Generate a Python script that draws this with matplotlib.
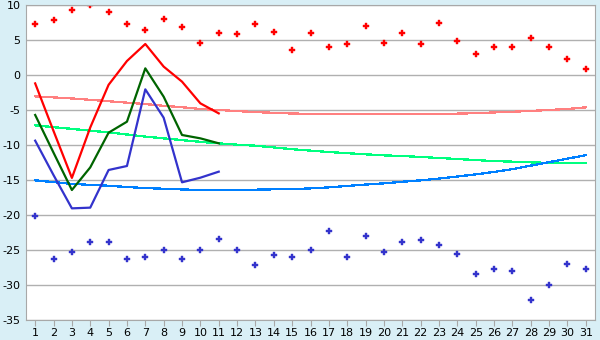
import numpy as np
import matplotlib
matplotlib.use("Agg")
import matplotlib.pyplot as plt

plt.rcParams['axes.unicode_minus'] = False

days = np.arange(1, 32)

# daily maxima / minima (markers)
tmax = [7.24, 7.81, 9.24, 9.95, 8.95, 7.24, 6.38, 7.95, 6.81, 4.52,
        5.95, 5.81, 7.24, 6.1, 3.52, 5.95, 3.95, 4.38, 6.95, 4.52,
        5.95, 4.38, 7.38, 4.81, 2.95, 3.95, 3.95, 5.24, 3.95, 2.24, 0.81]
tmin = [-20.19, -26.33, -25.33, -23.9, -23.9, -26.33, -26.05, -25.05, -26.33, -25.05,
        -23.48, -25.05, -27.19, -25.76, -26.05, -25.05, -22.33, -26.05, -23.05, -25.33,
        -23.9, -23.62, -24.33, -25.62, -28.48, -27.76, -28.05, -32.19, -30.05, -27.05, -27.76]

# measured lines (first 11 days)
line_days = np.arange(1, 12)
red_line = [-1.2, -8.0, -14.7, -7.5, -1.4, 2.0, 4.43, 1.2, -0.95, -4.05, -5.48]
green_line = [-5.71, -11.1, -16.43, -13.2, -8.24, -6.67, 0.95, -3.1, -8.57, -9.05, -9.76]
blue_line = [-9.38, -14.3, -19.05, -18.95, -13.57, -13.0, -2.05, -6.1, -15.33, -14.67, -13.81]

# normals (thin lines)
norm_max = [-3.05, -3.2, -3.35, -3.55, -3.75, -3.95, -4.15, -4.4, -4.6, -4.85,
            -5.0, -5.15, -5.3, -5.4, -5.5, -5.55, -5.6, -5.62, -5.62, -5.62,
            -5.62, -5.6, -5.57, -5.52, -5.45, -5.35, -5.25, -5.13, -5.0, -4.85, -4.62]
norm_mid = [-7.19, -7.45, -7.7, -7.95, -8.2, -8.5, -8.8, -9.05, -9.3, -9.55,
            -9.76, -9.95, -10.1, -10.35, -10.6, -10.8, -11.0, -11.17, -11.33, -11.48,
            -11.57, -11.71, -11.85, -12.0, -12.15, -12.3, -12.38, -12.48, -12.55, -12.6, -12.62]
norm_min = [-15.05, -15.3, -15.55, -15.7, -15.82, -16.0, -16.15, -16.25, -16.35, -16.42,
            -16.45, -16.42, -16.38, -16.33, -16.3, -16.2, -16.05, -15.85, -15.65, -15.48,
            -15.25, -15.05, -14.8, -14.5, -14.2, -13.85, -13.45, -12.95, -12.45, -11.95, -11.45]

fig = plt.figure(figsize=(6, 3.4), dpi=100, facecolor='#d9eff6')
ax = fig.add_axes([26/600, 1-320/340, 569/600, 315/340])
ax.set_facecolor('white')

ax.plot(days, norm_max, color='#ff8080', lw=0.9, antialiased=False)
ax.plot(days, norm_mid, color='#00ff80', lw=0.9, antialiased=False)
ax.plot(days, norm_min, color='#0080ff', lw=0.9, antialiased=False)

ax.plot(line_days, red_line, color='#ff0000', lw=1.6)
ax.plot(line_days, green_line, color='#006400', lw=1.6)
ax.plot(line_days, blue_line, color='#3333cc', lw=1.6)

ax.plot(days, tmax, ls='none', marker='P', ms=4.5, color='#ff0000', mew=0.3)
ax.plot(days, tmin, ls='none', marker='P', ms=4.5, color='#3333cc', mew=0.3)

ax.set_xlim(0.5, 31.5)
ax.set_ylim(-35, 10)
ax.set_xticks(days)
ax.set_yticks(np.arange(-35, 11, 5))
ax.yaxis.grid(True, color='#b0b0b0', lw=1)
ax.set_axisbelow(True)
for s in ax.spines.values():
    s.set_color('#a8a8a8')
ax.tick_params(axis='y', length=0, labelsize=8, pad=4)
ax.tick_params(axis='x', length=4, color='#a8a8a8', labelsize=8, pad=2)

fig.savefig('out.png', dpi=100, facecolor=fig.get_facecolor())
